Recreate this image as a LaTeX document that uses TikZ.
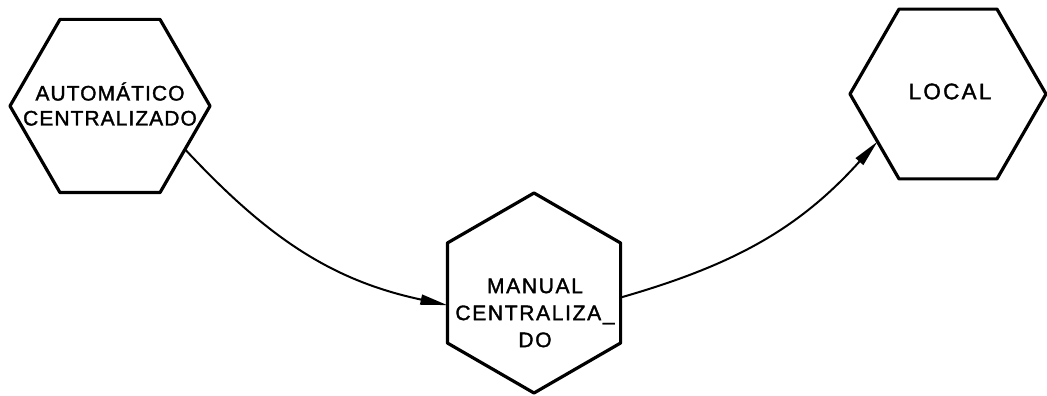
\documentclass[tikz,border=0pt]{standalone}
\usepackage{fontspec}
\setmainfont{Liberation Sans}
\newfontfamily\letteringA[LetterSpace=5, FakeBold=1.6]{Liberation Sans}
\newfontfamily\letteringB[LetterSpace=8, FakeBold=1.6]{Liberation Sans}
\newfontfamily\letteringC[LetterSpace=10, FakeBold=1.6]{Liberation Sans}
\usetikzlibrary{shapes.geometric, arrows.meta}

\begin{document}
\begin{tikzpicture}[x=1pt, y=1pt,
  hexagon/.style={regular polygon, regular polygon sides=6, draw,
    line width=3.2pt, line join=round, minimum size=200pt, inner sep=0pt, outer sep=0pt},
  caption/.style={align=center, inner sep=0pt, text=black},
  flow/.style={-{Triangle[length=27pt, width=10pt]}, line width=2pt}]
  \useasboundingbox (0,0) rectangle (1047,396);

  % the three operating modes
  \node[hexagon] (auto) at (110,290) {};
  \node[hexagon, shape border rotate=30] (manual) at (534,103) {};
  \node[hexagon, minimum size=196pt] (local) at (948,302) {};

  % lettering inside each hexagon
  \node[caption, font={\letteringA\fontsize{21}{25}\selectfont}] (autotext) at (110,292)
    {AUTOMÁTICO\\CENTRALIZADO};
  \node[caption, font={\letteringB\fontsize{21}{27}\selectfont}] (manualtext) at (535,83)
    {MANUAL\\CENTRALIZA\_\\DO};
  \node[caption, font={\letteringC\fontsize{22.5}{27}\selectfont}] (localtext) at (950,304.5)
    {LOCAL};

  % transitions between modes
  \draw[flow] (auto.-30) to[out=-47, in=168] (manual.188);
  \draw[flow] (manual.357) to[out=16, in=228] (local.214);
\end{tikzpicture}
\end{document}
